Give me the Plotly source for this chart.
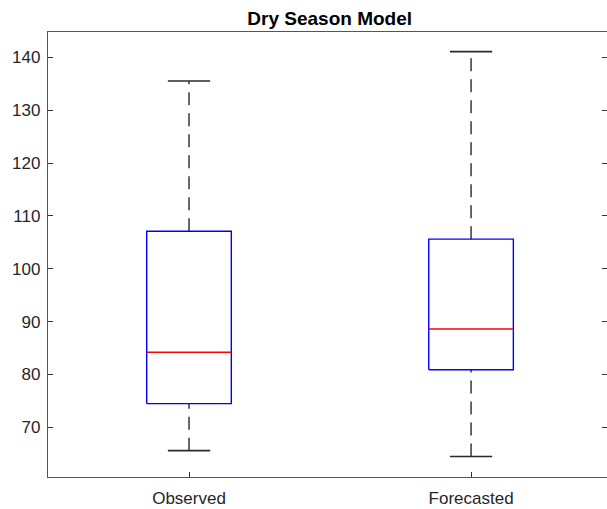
import plotly.graph_objects as go

# Box-plot summary statistics for the dry season model
categories = ["Observed", "Forecasted"]
positions = [1, 2]
lower_whisker = [65.6, 64.5]
q1 = [74.5, 80.9]
median = [84.2, 88.6]
q3 = [107.1, 105.6]
upper_whisker = [135.5, 141.06]

y_ticks = [70, 80, 90, 100, 110, 120, 130, 140]

BOX_HALF = 0.15
CAP_HALF = 0.075
FONT = "Liberation Sans, Arial, sans-serif"

fig = go.Figure()

for pos, lo, a, m, b, hi in zip(positions, lower_whisker, q1, median, q3, upper_whisker):
    # dashed whiskers
    for y0, y1 in ((b, hi), (lo, a)):
        fig.add_trace(go.Scatter(
            x=[pos, pos], y=[y0, y1], mode="lines",
            line=dict(color="#2a2a2a", width=1.4, dash="13px,8px"),
            hoverinfo="skip", showlegend=False))
    # whisker caps
    for yv in (lo, hi):
        fig.add_trace(go.Scatter(
            x=[pos - CAP_HALF, pos + CAP_HALF], y=[yv, yv], mode="lines",
            line=dict(color="#2a2a2a", width=1.6),
            hoverinfo="skip", showlegend=False))
    # interquartile box
    fig.add_trace(go.Scatter(
        x=[pos - BOX_HALF, pos + BOX_HALF, pos + BOX_HALF, pos - BOX_HALF, pos - BOX_HALF],
        y=[a, a, b, b, a], mode="lines",
        line=dict(color="#0000ff", width=1.4),
        hoverinfo="skip", showlegend=False))
    # median
    fig.add_trace(go.Scatter(
        x=[pos - BOX_HALF, pos + BOX_HALF], y=[m, m], mode="lines",
        line=dict(color="#ff0000", width=1.4),
        hoverinfo="skip", showlegend=False))

fig.update_layout(
    width=607, height=509,
    margin=dict(l=48, r=0, t=32, b=32),
    paper_bgcolor="white", plot_bgcolor="white",
    title=dict(text="<b>Dry Season Model</b>", x=329.7 / 607, xref="container",
               xanchor="center", y=1 - 18 / 509, yref="container", yanchor="middle",
               font=dict(family=FONT, size=19, color="black")),
    font=dict(family=FONT, size=17, color="#262626"),
    xaxis=dict(range=[0.5, 2.482], tickvals=positions, ticktext=categories,
               showgrid=False, zeroline=False, showline=True, linecolor="#555555",
               linewidth=1.3, mirror=True, ticks="inside", ticklen=5,
               tickcolor="#333333", tickwidth=1.2, ticklabelstandoff=5,
               tickfont=dict(size=17, color="#262626")),
    yaxis=dict(range=[60.62, 144.78], tickvals=y_ticks,
               showgrid=False, zeroline=False, showline=True, linecolor="#555555",
               linewidth=1.3, mirror="ticks", ticks="inside", ticklen=5,
               tickcolor="#333333", tickwidth=1.2, ticklabelstandoff=3,
               tickfont=dict(size=17, color="#262626")),
)

fig.write_html("out.html")
